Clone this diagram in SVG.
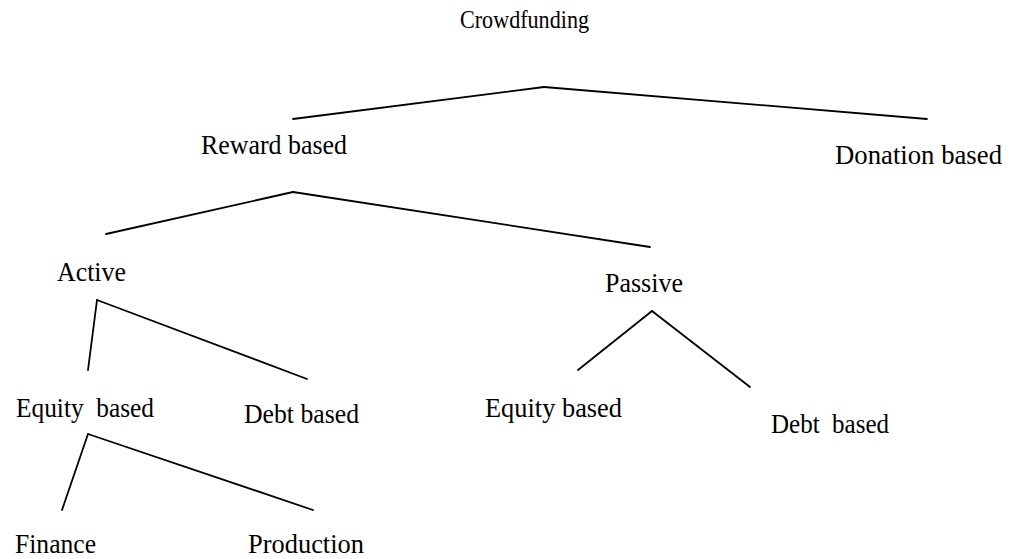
<svg xmlns="http://www.w3.org/2000/svg" width="1013" height="559" viewBox="0 0 1013 559">
<style>
text{font-family:"Liberation Serif","Times New Roman",serif;font-size:26.5px;fill:#000}
.c line{stroke:#000;stroke-width:1.8;stroke-linecap:round}
</style>
<rect width="1013" height="559" fill="#fff"/>
<g class="c" id="connectors">
<line x1="293" y1="119" x2="544" y2="87"/>
<line x1="544" y1="87" x2="927" y2="119"/>
<line x1="106" y1="234" x2="293" y2="192"/>
<line x1="293" y1="192" x2="650" y2="247"/>
<line x1="97" y1="300" x2="88" y2="370"/>
<line x1="97" y1="300" x2="307" y2="379"/>
<line x1="652" y1="311" x2="578" y2="370"/>
<line x1="652" y1="311" x2="750" y2="387"/>
<line x1="88" y1="434" x2="62" y2="510"/>
<line x1="88" y1="434" x2="313" y2="510"/>
</g>
<g id="n-crowdfunding"><text x="460" y="28" textLength="129" lengthAdjust="spacingAndGlyphs" style="font-size:25px">Crowdfunding</text></g>
<g id="n-reward"><text x="201" y="154" textLength="146" lengthAdjust="spacingAndGlyphs">Reward based</text></g>
<g id="n-donation"><text x="835" y="164" textLength="167" lengthAdjust="spacingAndGlyphs">Donation based</text></g>
<g id="n-active"><text x="57" y="281" textLength="69" lengthAdjust="spacingAndGlyphs">Active</text></g>
<g id="n-passive"><text x="605" y="292" textLength="78" lengthAdjust="spacingAndGlyphs">Passive</text></g>
<g id="n-equity-a"><text x="16" y="417" textLength="138" lengthAdjust="spacingAndGlyphs" xml:space="preserve">Equity  based</text></g>
<g id="n-debt-a"><text x="244" y="423" textLength="115" lengthAdjust="spacingAndGlyphs">Debt based</text></g>
<g id="n-equity-p"><text x="485" y="417" textLength="137" lengthAdjust="spacingAndGlyphs">Equity based</text></g>
<g id="n-debt-p"><text x="771" y="433" textLength="118" lengthAdjust="spacingAndGlyphs" xml:space="preserve">Debt  based</text></g>
<g id="n-finance"><text x="15" y="553" textLength="81" lengthAdjust="spacingAndGlyphs">Finance</text></g>
<g id="n-production"><text x="248" y="553" textLength="116" lengthAdjust="spacingAndGlyphs">Production</text></g>
</svg>
